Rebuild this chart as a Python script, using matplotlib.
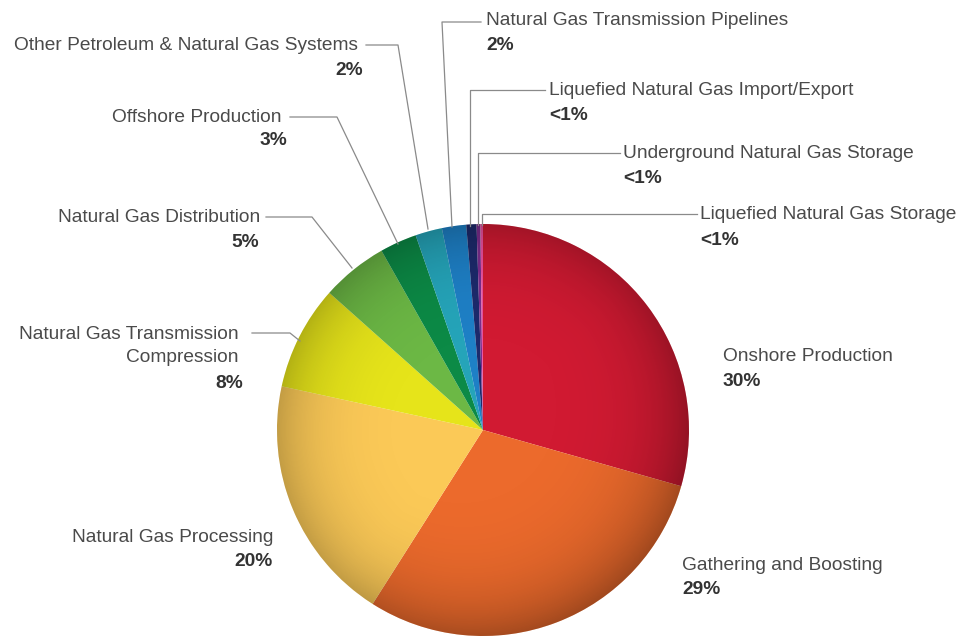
import numpy as np
import matplotlib.pyplot as plt
from matplotlib.patches import Circle

# Emissions share by segment, clockwise from 12 o'clock
segments = ['Onshore Production', 'Gathering and Boosting', 'Natural Gas Processing',
            'Natural Gas Transmission\nCompression', 'Natural Gas Distribution',
            'Offshore Production', 'Other Petroleum & Natural Gas Systems',
            'Natural Gas Transmission Pipelines', 'Liquefied Natural Gas Import/Export',
            'Underground Natural Gas Storage', 'Liquefied Natural Gas Storage']
shares = [29.4, 29.6, 19.4, 8.2, 5.2, 2.9, 2.1, 1.9, 0.8, 0.3, 0.2]
pct_labels = ['30%', '29%', '20%', '8%', '5%', '3%', '2%', '2%', '<1%', '<1%', '<1%']
colors = ['#d11a32', '#ec6a2c', '#fbc957', '#e6e41a', '#6cb845', '#0c8a46',
          '#25a4b9', '#1e80c6', '#1d2a6c', '#7a2d8d', '#e9509f']

W, H = 962, 637
CX, CY, R = 483, H - 430, 206

plt.rcParams['font.family'] = ['Liberation Sans', 'DejaVu Sans']
fig = plt.figure(figsize=(W / 100, H / 100), dpi=100)
ax = fig.add_axes([0, 0, 1, 1])

wedges, _ = ax.pie(shares, colors=colors, startangle=90, counterclock=False,
                   center=(CX, CY), radius=R, frame=True,
                   wedgeprops=dict(linewidth=0))

# soft shading towards the rim for the glossy look
n = 400
gx, gy = np.meshgrid(np.linspace(-1, 1, n), np.linspace(-1, 1, n))
d = np.sqrt(gx ** 2 + gy ** 2)
alpha = np.clip(0.22 * d ** 5 + 0.07 * np.clip(gx - gy, 0, None) * d ** 2, 0, 0.35)
shade = np.zeros((n, n, 4))
shade[..., 3] = alpha
im = ax.imshow(shade, extent=(CX - R, CX + R, CY - R, CY + R), origin='lower',
               zorder=3, interpolation='bilinear')
im.set_clip_path(Circle((CX, CY), R, transform=ax.transData))

ax.set_xlim(0, W)
ax.set_ylim(0, H)
ax.set_aspect('equal')
ax.axis('off')

name_kw = dict(fontsize=13.8, color='#4a4a4a', va='center')
pct_kw = dict(fontsize=13.8, color='#333333', va='center', fontweight='bold')
line_kw = dict(color='#8a8a8a', lw=0.9, zorder=4)

# label layout in pixel coords from the top: (name x, name y, pct x, pct y, align, leader)
layout = [
    (723, 356, 723, 381, 'left', None),
    (682, 566, 682, 590, 'left', None),
    (273, 537, 273, 562, 'right', None),
    (239, 346, 243, 383, 'right', [(252, 333), (290, 333), (300, 341)]),
    (260, 217, 259, 242, 'right', [(266, 217), (312, 217), (352, 268)]),
    (282, 117, 287, 140, 'right', [(290, 117), (337, 117), (398, 244)]),
    (358, 45, 363, 70, 'right', [(366, 45), (398, 45), (428, 229)]),
    (486, 20, 486, 45, 'left', [(481, 22), (442, 22), (452, 227)]),
    (549, 90, 549, 115, 'left', [(545, 90), (470, 90), (470, 226)]),
    (623, 153, 623, 178, 'left', [(620, 153), (478, 153), (478, 225)]),
    (700, 214, 700, 240, 'left', [(697, 214), (482, 214), (482, 225)]),
]

for name, pct, (nx, ny, px, py, ha, leader) in zip(segments, pct_labels, layout):
    ax.text(nx, H - ny, name, ha=ha, multialignment=ha, linespacing=1.5, **name_kw)
    ax.text(px, H - py, pct, ha=ha, **pct_kw)
    if leader:
        xs = [p[0] for p in leader]
        ys = [H - p[1] for p in leader]
        ax.plot(xs, ys, **line_kw)

fig.savefig('out.png', dpi=100, facecolor='white')
